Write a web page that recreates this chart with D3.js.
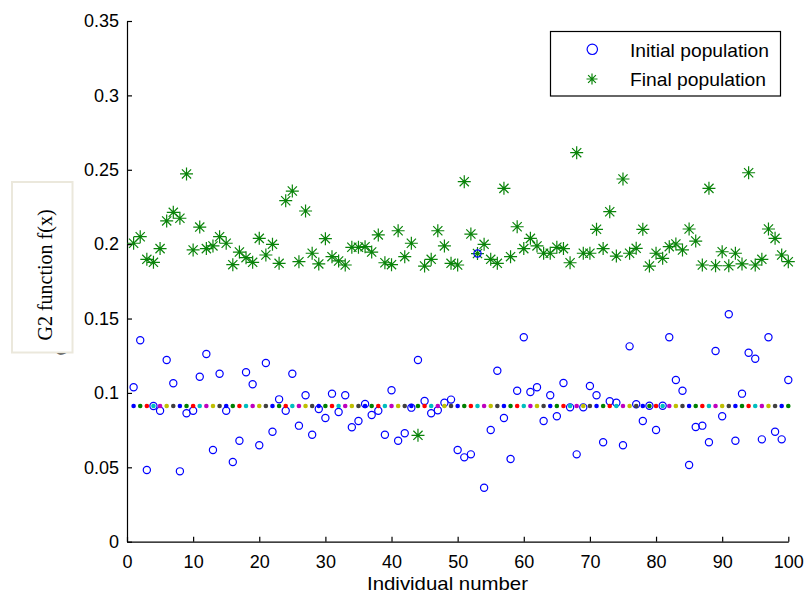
<!DOCTYPE html>
<html>
<head>
<meta charset="utf-8">
<script src="https://cdn.jsdelivr.net/npm/d3@7"></script>
<style>
  html, body { margin: 0; padding: 0; background: #fff; }
  svg { display: block; }
  .sans { font-family: Arial, "Liberation Sans", Helvetica, sans-serif; }
  .serif { font-family: "Liberation Serif", "Times New Roman", serif; }
</style>
</head>
<body>
<svg id="chart" width="806" height="594"></svg>
<script>
// Individual index 1..100
const individuals = d3.range(1, 101);

// Objective value of each individual in the initial population
const initialPopulation = [
  0.1038, 0.1354, 0.0482, 0.0912, 0.0880, 0.1221, 0.1065, 0.0473, 0.0863, 0.0880,
  0.1109, 0.1262, 0.0616, 0.1129, 0.0880, 0.0536, 0.0679, 0.1139, 0.1058, 0.0648,
  0.1201, 0.0739, 0.0957, 0.0880, 0.1129, 0.0780, 0.0984, 0.0719, 0.0892, 0.0831,
  0.0995, 0.0872, 0.0984, 0.0769, 0.0811, 0.0926, 0.0852, 0.0880, 0.0719, 0.1018,
  0.0679, 0.0729, 0.0901, 0.1221, 0.0946, 0.0863, 0.0883, 0.0934, 0.0955, 0.0616,
  0.0567, 0.0587, 0.1937, 0.0363, 0.0751, 0.1149, 0.0831, 0.0556, 0.1015, 0.1374,
  0.1006, 0.1038, 0.0811, 0.0984, 0.0843, 0.1067, 0.0903, 0.0587, 0.0903, 0.1047,
  0.0984, 0.0668, 0.0944, 0.0934, 0.0648, 0.1313, 0.0924, 0.0811, 0.0914, 0.0751,
  0.0914, 0.1374, 0.1087, 0.1015, 0.0516, 0.0771, 0.0780, 0.0668, 0.1282, 0.0843,
  0.1529, 0.0679, 0.0995, 0.1270, 0.1230, 0.0688, 0.1374, 0.0739, 0.0688, 0.1087
];

// Objective value of each individual in the final population
const finalPopulation = [
  0.2006, 0.2050, 0.1898, 0.1878, 0.1970, 0.2156, 0.2214, 0.2174, 0.2472, 0.1961,
  0.2115, 0.1970, 0.1988, 0.2050, 0.2006, 0.1862, 0.1947, 0.1909, 0.1878, 0.2039,
  0.1927, 0.1999, 0.1871, 0.2292, 0.2357, 0.1882, 0.2223, 0.1939, 0.1867, 0.2037,
  0.1916, 0.1887, 0.1860, 0.1979, 0.1979, 0.1983, 0.1947, 0.2062, 0.1875, 0.1862,
  0.2090, 0.1916, 0.2006, 0.0715, 0.1853, 0.1898, 0.2090, 0.1988, 0.1871, 0.1860,
  0.2420, 0.2068, 0.1937, 0.1999, 0.1898, 0.1871, 0.2375, 0.1916, 0.2117, 0.1970,
  0.2039, 0.1988, 0.1939, 0.1939, 0.1979, 0.1970, 0.1875, 0.2615, 0.1939, 0.1939,
  0.2100, 0.1970, 0.2218, 0.1920, 0.2438, 0.1939, 0.1972, 0.2100, 0.1853, 0.1939,
  0.1905, 0.1983, 0.2001, 0.1961, 0.2102, 0.2021, 0.1860, 0.2375, 0.1855, 0.1949,
  0.1855, 0.1939, 0.1867, 0.2480, 0.1860, 0.1898, 0.2102, 0.2039, 0.1927, 0.1882
];

// Reference level drawn as a row of coloured dots
const referenceLevel = 0.0912;
const dotColors = ["#0000ff", "#008000", "#ff0000", "#00bfbf", "#bf00bf", "#bfbf00", "#404040"];

const xTicks = [0, 10, 20, 30, 40, 50, 60, 70, 80, 90, 100];
const yTicks = [0, 0.05, 0.1, 0.15, 0.2, 0.25, 0.3, 0.35];
const yTickLabels = ["0", "0.05", "0.1", "0.15", "0.2", "0.25", "0.3", "0.35"];

const seriesNames = ["Initial population", "Final population"];
const xTitle = "Individual number";
const yTitle = "G2 function f(x)";

const svg = d3.select("#chart");

const x = d3.scaleLinear().domain([0, 100]).range([127, 788.3]);
const y = d3.scaleLinear().domain([0, 0.35]).range([541.7, 21]);

// Y label: plain label underneath, covered by a boxed serif label
const yLabelGroup = svg.append("g");
yLabelGroup.append("text")
  .attr("class", "sans")
  .attr("transform", "translate(68,294) rotate(-90)")
  .attr("text-anchor", "middle")
  .attr("font-size", 18)
  .attr("fill", "#000")
  .text(yTitle);
yLabelGroup.append("rect")
  .attr("x", 12).attr("y", 182)
  .attr("width", 60.5).attr("height", 170.5)
  .attr("fill", "#fff")
  .attr("stroke", "#ebe8dc")
  .attr("stroke-width", 2);
yLabelGroup.append("text")
  .attr("class", "serif")
  .attr("transform", "translate(52,275) rotate(-90)")
  .attr("text-anchor", "middle")
  .attr("font-size", 20)
  .attr("fill", "#000")
  .text(yTitle);

// Axes (inward ticks, no box)
const xAxis = d3.axisBottom(x).tickValues(xTicks).tickSize(-5).tickPadding(14).tickSizeOuter(0);
const yAxis = d3.axisLeft(y).tickValues(yTicks).tickSize(-5).tickPadding(8).tickSizeOuter(0)
  .tickFormat((d, i) => yTickLabels[i]);

const gx = svg.append("g").attr("transform", `translate(0,${y(0)})`).call(xAxis);
const gy = svg.append("g").attr("transform", `translate(${x(0)},0)`).call(yAxis);
[gx, gy].forEach(g => {
  g.attr("font-family", null).attr("font-size", null);
  g.select(".domain").attr("stroke", "#000").attr("stroke-width", 1.2);
  g.selectAll(".tick line").attr("stroke", "#000").attr("stroke-width", 1.2);
  g.selectAll(".tick text")
    .attr("class", "sans")
    .attr("font-size", 18)
    .attr("fill", "#000");
});

svg.append("text")
  .attr("class", "sans")
  .attr("x", 367).attr("y", 590)
  .attr("font-size", 18.5)
  .attr("textLength", 161)
  .attr("lengthAdjust", "spacingAndGlyphs")
  .attr("fill", "#000")
  .text(xTitle);

// Asterisk marker path
function starPath(r) {
  const d = r * Math.SQRT1_2;
  return `M${-r},0H${r}M0,${-r}V${r}M${-d},${-d}L${d},${d}M${-d},${d}L${d},${-d}`;
}

const plot = svg.append("g");

// Final population (green asterisks)
plot.append("g").selectAll("path")
  .data(individuals)
  .join("path")
  .attr("transform", (d, i) => `translate(${x(d)},${y(finalPopulation[i])})`)
  .attr("d", starPath(6.5))
  .attr("fill", "none")
  .attr("stroke", "#0a840a")
  .attr("stroke-width", 1.2);

// Initial population (blue circles)
plot.append("g").selectAll("circle")
  .data(individuals)
  .join("circle")
  .attr("cx", d => x(d))
  .attr("cy", (d, i) => y(initialPopulation[i]))
  .attr("r", 3.6)
  .attr("fill", "none")
  .attr("stroke", "#0000ff")
  .attr("stroke-width", 1.2);

// Reference level dots
plot.append("g").selectAll("circle")
  .data(individuals)
  .join("circle")
  .attr("cx", d => x(d))
  .attr("cy", y(referenceLevel))
  .attr("r", 2.3)
  .attr("fill", (d, i) => dotColors[i % dotColors.length]);

// Legend
const legend = svg.append("g");
legend.append("rect")
  .attr("x", 550.5).attr("y", 31.5)
  .attr("width", 230).attr("height", 64.5)
  .attr("fill", "#fff")
  .attr("stroke", "#000")
  .attr("stroke-width", 1.2);
legend.append("circle")
  .attr("cx", 592.3).attr("cy", 49.3).attr("r", 5.2)
  .attr("fill", "none").attr("stroke", "#0000ff").attr("stroke-width", 1.2);
legend.append("path")
  .attr("transform", "translate(592,79)")
  .attr("d", starPath(5.5))
  .attr("fill", "none").attr("stroke", "#0a840a").attr("stroke-width", 1.2);
legend.selectAll("text.lbl")
  .data(seriesNames)
  .join("text")
  .attr("class", "lbl sans")
  .attr("x", 630)
  .attr("y", (d, i) => i === 0 ? 56.5 : 85.5)
  .attr("font-size", 18.5)
  .attr("textLength", (d, i) => i === 0 ? 139 : 136)
  .attr("lengthAdjust", "spacingAndGlyphs")
  .attr("fill", "#000")
  .text(d => d);
</script>
</body>
</html>
